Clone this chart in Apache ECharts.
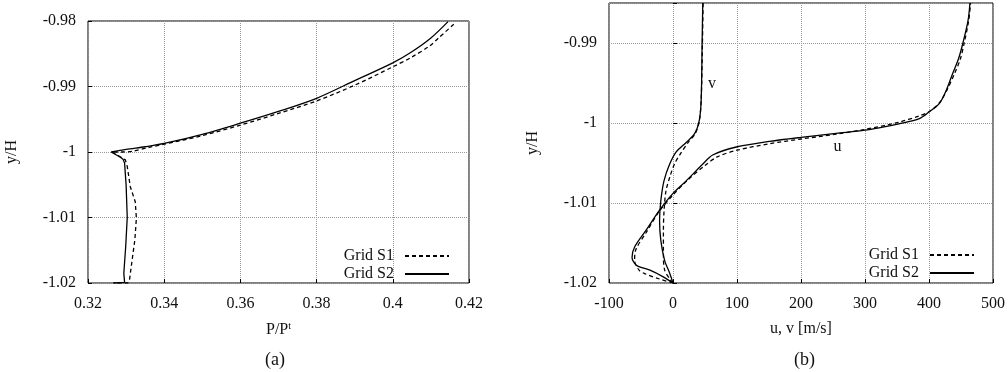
<!DOCTYPE html>
<html>
<head>
<meta charset="utf-8">
<script src="https://cdn.jsdelivr.net/npm/echarts@6/dist/echarts.min.js"></script>
<style>
  html, body { margin: 0; padding: 0; background: #fff; }
  #chart { width: 1008px; height: 372px; }
</style>
</head>
<body>
<div id="chart"></div>
<script>
// panel (a): P/Pt vs y/H, upper branch and wall branch
const pS1Top = [[0.4160,-0.9805],[0.4120,-0.9826],[0.4097,-0.9838],[0.4050,-0.9855],[0.4000,-0.9870],[0.3900,-0.9898],[0.3800,-0.9922],[0.3700,-0.9941],[0.3600,-0.9959],[0.3500,-0.9975],[0.3400,-0.9988],[0.3360,-0.9993],[0.3316,-0.9999],[0.3290,-1.0000],[0.3263,-1.0000]];
const pS1Wall = [[0.3263,-1.0000],[0.3298,-1.0012],[0.3303,-1.0022],[0.3311,-1.0053],[0.3324,-1.0076],[0.3327,-1.0101],[0.3323,-1.0134],[0.3316,-1.0164],[0.3309,-1.0195],[0.3305,-1.0200],[0.3267,-1.0200]];
const pS2Top = [[0.4145,-0.9801],[0.4100,-0.9826],[0.4050,-0.9847],[0.4000,-0.9864],[0.3900,-0.9891],[0.3800,-0.9918],[0.3700,-0.9938],[0.3600,-0.9956],[0.3500,-0.9973],[0.3400,-0.9987],[0.3350,-0.9992],[0.3300,-0.9996],[0.3261,-1.0000]];
const pS2Wall = [[0.3261,-1.0000],[0.3285,-1.0008],[0.3292,-1.0011],[0.3296,-1.0017],[0.3300,-1.0050],[0.3303,-1.0100],[0.3299,-1.0144],[0.3294,-1.0185],[0.3296,-1.0199],[0.3267,-1.0200]];

// panel (b): u, v [m/s] vs y/H
const uS1 = [[0,-1.0200],[-21,-1.0195],[-45,-1.0188],[-53,-1.0184],[-60,-1.0172],[-58,-1.0158],[-42,-1.0137],[-22,-1.0111],[0,-1.0090],[22,-1.0072],[50,-1.0053],[70,-1.0042],[100,-1.0034],[150,-1.0026],[200,-1.0020],[255,-1.0014],[300,-1.0008],[353,-0.9999],[385,-0.9991],[400,-0.9986],[416,-0.9975],[428,-0.9959],[440,-0.9938],[449,-0.9920],[455,-0.9900],[462,-0.9872],[465,-0.9850]];
const uS2 = [[0,-1.0200],[-16,-1.0192],[-36,-1.0184],[-57,-1.0178],[-64,-1.0168],[-60,-1.0155],[-42,-1.0134],[-21,-1.0109],[0,-1.0088],[21,-1.0072],[47,-1.0051],[62,-1.0040],[99,-1.0030],[151,-1.0023],[200,-1.0018],[255,-1.0013],[300,-1.0009],[322,-1.0006],[353,-1.0001],[385,-0.99945],[400,-0.99863],[416,-0.99758],[427,-0.9959],[437,-0.9938],[446,-0.9920],[453,-0.9900],[461,-0.9872],[464,-0.9850]];
const vS1 = [[0,-1.0200],[-5,-1.0195],[-13,-1.0184],[-15,-1.0165],[-15,-1.0135],[-14,-1.0110],[-11,-1.0085],[-4,-1.0065],[3,-1.0050],[12,-1.0038],[24,-1.0024],[35,-1.0013],[41,-0.9998],[44,-0.9972],[46,-0.9900],[47,-0.9850]];
const vS2 = [[0,-1.0200],[-5,-1.0188],[-13,-1.0172],[-19,-1.0147],[-21,-1.0122],[-19,-1.0097],[-14,-1.0072],[-5,-1.0051],[5,-1.0036],[21,-1.0024],[34,-1.0013],[41,-0.9997],[44,-0.9972],[45.5,-0.9900],[46.5,-0.9850]];

const xTicksA = [0.32, 0.42, 0.02];
const yTicksA = [-1.02, -0.98, 0.01];
const xTicksB = [-100, 500, 100];
const yTicksB = [-1.02, -0.985, 0.01];

const FONT = 'Liberation Serif';
const txt = { color: '#111', fontFamily: FONT, fontSize: 16 };

function fmt(v) {
  const r = Math.round(v * 100) / 100;
  if (Math.abs(r - v) > 1e-6) return '';
  return String(r);
}

function valueAxis(idx, ticks, margin, extra) {
  return Object.assign({
    type: 'value', gridIndex: idx,
    min: ticks[0], max: ticks[1], interval: ticks[2],
    axisLine: { show: false },
    axisTick: { show: true, inside: true, length: 4, lineStyle: { color: '#000' } },
    axisLabel: Object.assign({ margin: margin, formatter: fmt }, txt),
    splitLine: { show: true, lineStyle: { color: '#999', type: [1, 1], width: 1 } },
    nameTextStyle: txt
  }, extra);
}

const solid = { color: '#000', width: 1.3, type: 'solid' };
const dashed = { color: '#000', width: 1.3, type: [4, 3] };

function line(name, xi, yi, data, style, extra) {
  return Object.assign({
    name: name, type: 'line', xAxisIndex: xi, yAxisIndex: yi,
    data: data, symbol: 'none', smooth: 0.3,
    lineStyle: style, itemStyle: { color: '#000' },
    animation: false
  }, extra);
}

function tag(text, coord) {
  return {
    symbol: 'circle', symbolSize: 12, itemStyle: { color: 'rgba(0,0,0,0)' },
    label: Object.assign({ show: true, position: 'inside', formatter: text }, txt),
    data: [{ coord: coord }]
  };
}

const legendBase = {
  orient: 'vertical', align: 'right', itemWidth: 44, itemHeight: 14, itemGap: 2, padding: 0,
  data: ['Grid S1', 'Grid S2'], textStyle: Object.assign({}, txt, { padding: [0, 6, 0, 0] }),
  itemStyle: { opacity: 0 },
  selectedMode: false
};

let chart = echarts.init(document.getElementById('chart'));
chart.setOption({
  backgroundColor: '#fff',
  animation: false,
  grid: [
    { left: 88, top: 21, right: 539, bottom: 89, show: true, borderColor: '#000', borderWidth: 1 },
    { left: 609, top: 3, right: 15, bottom: 89, show: true, borderColor: '#000', borderWidth: 1 }
  ],
  xAxis: [
    valueAxis(0, xTicksA, 13, {
      name: '{a|P/P}{s|t}', nameLocation: 'middle', nameGap: 38,
      nameTextStyle: Object.assign({}, txt, { rich: { a: Object.assign({}, txt), s: { color: '#111', fontFamily: FONT, fontSize: 10, verticalAlign: 'top', padding: [0, 0, 8, 0] } } })
    }),
    valueAxis(1, xTicksB, 13, { name: 'u, v [m/s]', nameLocation: 'middle', nameGap: 38 })
  ],
  yAxis: [
    valueAxis(0, yTicksA, 12, { name: 'y/H', nameLocation: 'middle', nameGap: 68 }),
    valueAxis(1, yTicksB, 12, { name: 'y/H', nameLocation: 'middle', nameGap: 68 })
  ],
  legend: [
    Object.assign({ right: 558, top: 248 }, legendBase),
    Object.assign({ right: 33, top: 247 }, legendBase)
  ],
  series: [
    line('Grid S1', 0, 0, pS1Top, dashed),
    line('Grid S1', 0, 0, pS1Wall, dashed, { smooth: false }),
    line('Grid S2', 0, 0, pS2Top, solid),
    line('Grid S2', 0, 0, pS2Wall, solid, { smooth: false }),
    line('Grid S1', 1, 1, uS1, dashed),
    line('Grid S2', 1, 1, uS2, solid, { markPoint: tag('u', [257, -1.003]) }),
    line('Grid S1', 1, 1, vS1, dashed),
    line('Grid S2', 1, 1, vS2, solid, { markPoint: tag('v', [61, -0.9951]) })
  ],
  graphic: [
    { type: 'text', left: 265, top: 351, style: Object.assign({ text: '(a)' }, txt, { fontSize: 18, fill: '#111' }) },
    { type: 'text', left: 794, top: 351, style: Object.assign({ text: '(b)' }, txt, { fontSize: 18, fill: '#111' }) }
  ]
});
</script>
</body>
</html>
